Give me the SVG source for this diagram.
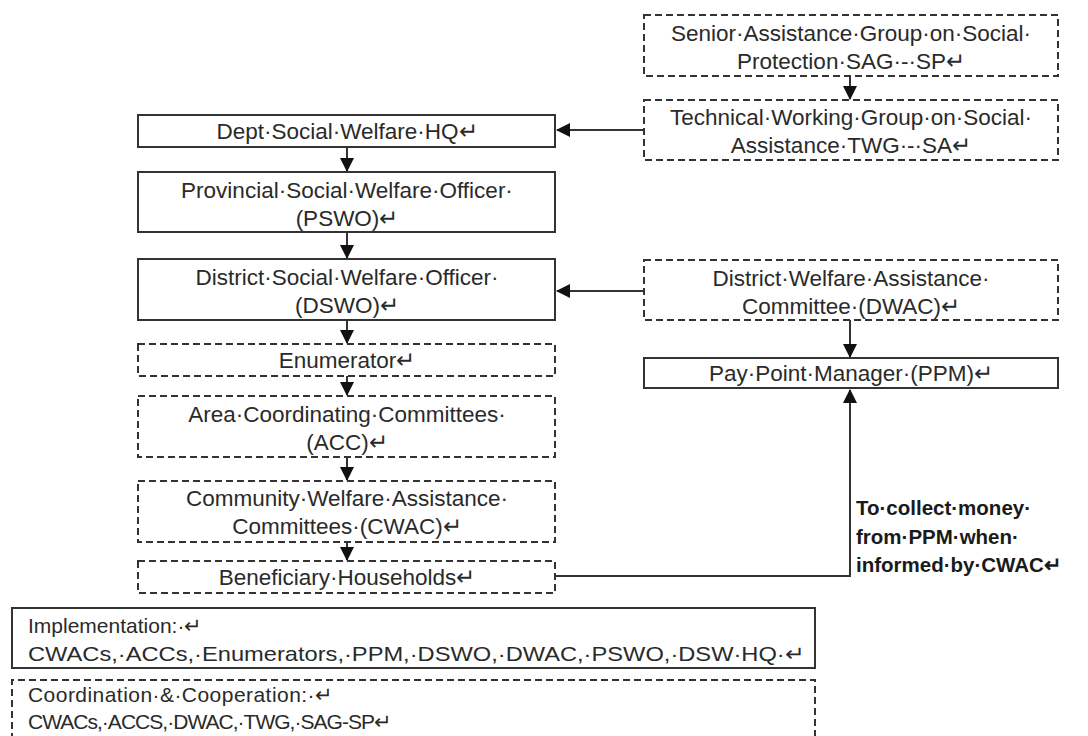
<svg xmlns="http://www.w3.org/2000/svg" width="1088" height="736" viewBox="0 0 1088 736">
<style>
.box{fill:#fff;stroke:#333;stroke-width:2}
.dash{fill:#fff;stroke:#333;stroke-width:2;stroke-dasharray:7 4}
.t{font-family:"Liberation Sans",Arial,sans-serif;font-size:22.5px;fill:#2a2a2a;text-anchor:middle}
.b{font-family:"Liberation Sans",Arial,sans-serif;font-size:20.5px;fill:#1a1a1a;font-weight:bold}
.l{font-family:"Liberation Sans",Arial,sans-serif;font-size:21px;fill:#2a2a2a}
.c{fill:none;stroke:#333;stroke-width:2}
</style>
<defs>
<marker id="ah" markerWidth="14" markerHeight="14" refX="13" refY="7" orient="auto" markerUnits="userSpaceOnUse">
<path d="M0,0 L14,7 L0,14 Z" fill="#111"/>
</marker>
</defs>
<rect width="1088" height="736" fill="#fff"/>
<g id="connectors">
<path class="c" d="M850,76 V99" marker-end="url(#ah)"/>
<path class="c" d="M644,130 H557" marker-end="url(#ah)"/>
<path class="c" d="M347,147 V171" marker-end="url(#ah)"/>
<path class="c" d="M347,232 V258" marker-end="url(#ah)"/>
<path class="c" d="M644,291 H557" marker-end="url(#ah)"/>
<path class="c" d="M850,320 V357" marker-end="url(#ah)"/>
<path class="c" d="M347,320 V343" marker-end="url(#ah)"/>
<path class="c" d="M347,376 V395" marker-end="url(#ah)"/>
<path class="c" d="M347,457 V480" marker-end="url(#ah)"/>
<path class="c" d="M347,542 V560" marker-end="url(#ah)"/>
<path class="c" d="M555,576 H850 V390" marker-end="url(#ah)"/>
</g>
<g id="sag">
<rect class="dash" x="644" y="15" width="414" height="61"/>
<text class="t" x="851" y="41">Senior·Assistance·Group·on·Social·</text>
<text class="t" x="851" y="69">Protection·SAG·-·SP↵</text>
</g>
<g id="twg">
<rect class="dash" x="644" y="100" width="414" height="60"/>
<text class="t" x="851" y="125">Technical·Working·Group·on·Social·</text>
<text class="t" x="851" y="153">Assistance·TWG·-·SA↵</text>
</g>
<g id="hq">
<rect class="box" x="138" y="115" width="417" height="32"/>
<text class="t" x="347" y="139">Dept·Social·Welfare·HQ↵</text>
</g>
<g id="pswo">
<rect class="box" x="138" y="172" width="417" height="60"/>
<text class="t" x="347" y="198">Provincial·Social·Welfare·Officer·</text>
<text class="t" x="347" y="226">(PSWO)↵</text>
</g>
<g id="dswo">
<rect class="box" x="138" y="259" width="417" height="61"/>
<text class="t" x="347" y="285">District·Social·Welfare·Officer·</text>
<text class="t" x="347" y="313">(DSWO)↵</text>
</g>
<g id="dwac">
<rect class="dash" x="644" y="260" width="414" height="60"/>
<text class="t" x="851" y="286">District·Welfare·Assistance·</text>
<text class="t" x="851" y="314">Committee·(DWAC)↵</text>
</g>
<g id="ppm">
<rect class="box" x="644" y="358" width="414" height="30"/>
<text class="t" x="851" y="381">Pay·Point·Manager·(PPM)↵</text>
</g>
<g id="enum">
<rect class="dash" x="138" y="344" width="417" height="32"/>
<text class="t" x="347" y="368">Enumerator↵</text>
</g>
<g id="acc">
<rect class="dash" x="138" y="396" width="417" height="61"/>
<text class="t" x="347" y="422">Area·Coordinating·Committees·</text>
<text class="t" x="347" y="450">(ACC)↵</text>
</g>
<g id="cwac">
<rect class="dash" x="138" y="481" width="417" height="61"/>
<text class="t" x="347" y="506">Community·Welfare·Assistance·</text>
<text class="t" x="347" y="534">Committees·(CWAC)↵</text>
</g>
<g id="bh">
<rect class="dash" x="138" y="561" width="417" height="32"/>
<text class="t" x="347" y="585">Beneficiary·Households↵</text>
</g>
<g id="label">
<text class="b" x="856" y="515">To·collect·money·</text>
<text class="b" x="856" y="544">from·PPM·when·</text>
<text class="b" x="856" y="572">informed·by·CWAC↵</text>
</g>
<g id="impl">
<rect class="box" x="12" y="608" width="803" height="60"/>
<text class="l" x="28" y="633">Implementation:·↵</text>
<text class="l" x="28" y="661" textLength="777" lengthAdjust="spacingAndGlyphs">CWACs,·ACCs,·Enumerators,·PPM,·DSWO,·DWAC,·PSWO,·DSW·HQ·↵</text>
</g>
<g id="coord">
<path class="dash" d="M12,740 V680 H815 V740"/>
<text class="l" x="28" y="702" textLength="305" lengthAdjust="spacing">Coordination·&amp;·Cooperation:·↵</text>
<text class="l" x="28" y="729" textLength="364" lengthAdjust="spacing">CWACs,·ACCS,·DWAC,·TWG,·SAG-SP↵</text>
</g>
</svg>
